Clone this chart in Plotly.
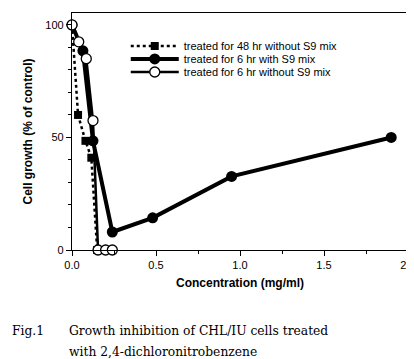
import plotly.graph_objects as go

# Data
conc_48h = [0.0, 0.036, 0.08, 0.115, 0.15]
growth_48h = [100, 60, 48.5, 41, 0]

conc_6h_s9 = [0.0, 0.065, 0.125, 0.24, 0.48, 0.95, 1.9]
growth_6h_s9 = [100, 88.5, 48.5, 8, 14.3, 32.7, 50]

conc_6h_nos9 = [0.0, 0.04, 0.085, 0.125, 0.155, 0.2, 0.24]
growth_6h_nos9 = [100, 92.5, 85, 57.5, 0, 0, 0]

series_names = [
    "treated for 48 hr without S9 mix",
    "treated for 6 hr with S9 mix",
    "treated for 6 hr without S9 mix",
]
x_ticks = [0.0, 0.5, 1.0, 1.5, 2.0]
x_ticklabels = ["0.0", "0.5", "1.0", "1.5", "2.0"]
y_ticks = [0, 50, 100]
y_ticklabels = ["0", "50", "100"]

fig = go.Figure()
fig.add_trace(go.Scatter(
    x=conc_48h, y=growth_48h, name=series_names[0], mode="lines+markers",
    line=dict(color="black", width=2.5, dash="3px,3px"),
    marker=dict(symbol="square", size=8, color="black"),
    cliponaxis=False, legend="legend",
))
fig.add_trace(go.Scatter(
    x=conc_6h_s9, y=growth_6h_s9, name=series_names[1], mode="lines+markers",
    line=dict(color="black", width=4),
    marker=dict(symbol="circle", size=11, color="black"),
    cliponaxis=False, legend="legend2",
))
fig.add_trace(go.Scatter(
    x=conc_6h_nos9, y=growth_6h_nos9, name=series_names[2], mode="lines+markers",
    line=dict(color="black", width=2.5),
    marker=dict(symbol="circle", size=10, color="white", line=dict(color="black", width=1.3)),
    cliponaxis=False, legend="legend3",
))

axis_font = dict(family="Liberation Sans, Arial, sans-serif", size=11, color="black")
leg_common = dict(
    x=0.16, xanchor="left", yanchor="middle",
    bgcolor="rgba(0,0,0,0)", borderwidth=0,
    font=dict(family="Liberation Sans, Arial, sans-serif", size=11, color="black"),
    itemwidth=48,
)

fig.update_layout(
    width=414, height=359,
    margin=dict(l=64, r=14, t=5, b=117),
    paper_bgcolor="white", plot_bgcolor="white",
    font=axis_font,
    showlegend=True,
    legend=dict(y=0.861, **leg_common),
    legend2=dict(y=0.806, **leg_common),
    legend3=dict(y=0.751, **leg_common),
    xaxis=dict(
        range=[0, 2], tickmode="array", tickvals=x_ticks, ticktext=x_ticklabels,
        tickformat=".1f",
        showgrid=False, zeroline=False, showline=True, linecolor="black", linewidth=1.2,
        mirror=True, ticks="outside", ticklen=5, tickcolor="black",
        minor=dict(tickmode="array", tickvals=[0.25, 0.75, 1.25, 1.75], ticks="outside", ticklen=3, tickcolor="black"),
        title=dict(text="<b>Concentration (mg/ml)</b>", font=dict(size=12), standoff=8),
        tickfont=axis_font,
    ),
    yaxis=dict(
        range=[0, 105.3], tickmode="array", tickvals=y_ticks, ticktext=y_ticklabels,
        showgrid=False, zeroline=False, showline=True, linecolor="black", linewidth=1.2,
        mirror=True, ticks="outside", ticklen=5, tickcolor="black",
        minor=dict(tickmode="array", tickvals=[10, 20, 30, 40, 60, 70, 80, 90], ticks="outside", ticklen=3, tickcolor="black"),
        title=dict(text="<b>Cell growth (% of control)</b>", font=dict(size=12), standoff=10),
        tickfont=axis_font,
    ),
)

caption_font = dict(family="DejaVu Serif, serif", size=12.3, color="black")
fig.add_annotation(text="Fig.1", xref="paper", yref="paper", x=-0.185, y=-0.342,
                   xanchor="left", yanchor="middle", showarrow=False, font=caption_font)
fig.add_annotation(text="Growth inhibition of CHL/IU cells treated", xref="paper", yref="paper",
                   x=-0.015, y=-0.342, xanchor="left", yanchor="middle", showarrow=False, font=caption_font)
fig.add_annotation(text="with 2,4-dichloronitrobenzene", xref="paper", yref="paper",
                   x=-0.015, y=-0.43, xanchor="left", yanchor="middle", showarrow=False, font=caption_font)

fig.write_html("out.html")
